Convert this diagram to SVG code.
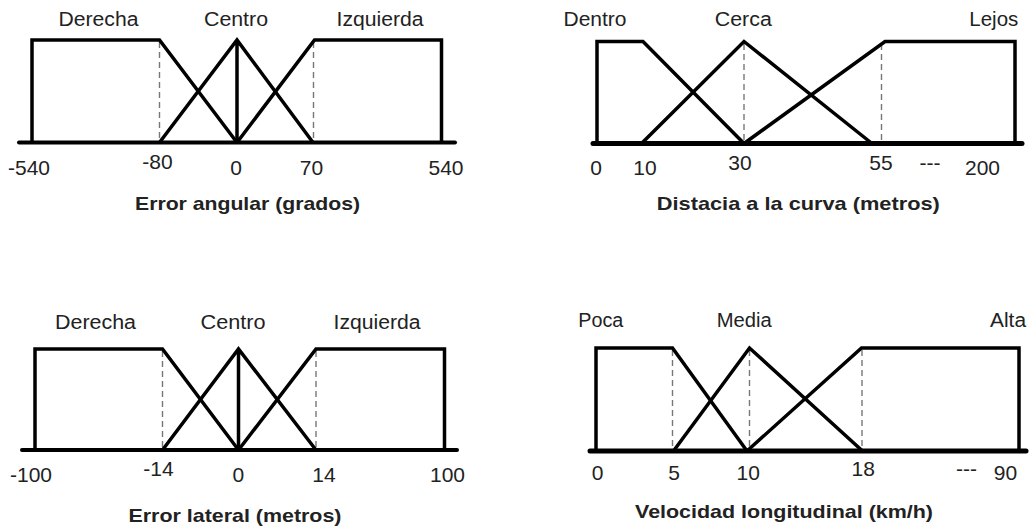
<svg xmlns="http://www.w3.org/2000/svg" width="1030" height="528" viewBox="0 0 1030 528">
<style>
.mf{fill:none;stroke:#000;stroke-width:3.5;stroke-linejoin:miter;stroke-linecap:butt}
.ax{fill:none;stroke:#000;stroke-linecap:round}
.ds{fill:none;stroke:#777;stroke-width:1.4;stroke-dasharray:6 4}
.lb{font-family:"Liberation Sans",Arial,sans-serif;font-size:20px;fill:#222;text-anchor:middle}
.tk{font-family:"Liberation Sans",Arial,sans-serif;font-size:21px;fill:#222;text-anchor:middle}
.tt{font-family:"Liberation Sans",Arial,sans-serif;font-size:19px;font-weight:bold;fill:#222;text-anchor:middle}
</style>
<rect width="1030" height="528" fill="#fff"/>

<!-- Panel 1: Error angular -->
<g id="panel-error-angular">
  <g id="p1-guides">
    <line class="ds" x1="159.5" y1="42" x2="159.5" y2="141"/>
    <line class="ds" x1="313.5" y1="42" x2="313.5" y2="141"/>
  </g>
  <g id="p1-derecha"><path class="mf" d="M32,142.5 V40 H159.5 L237,142.5"/></g>
  <g id="p1-centro"><path class="mf" d="M159.5,142.5 L237,40 L313,142.5 M237,40 V142.5"/></g>
  <g id="p1-izquierda"><path class="mf" d="M237,142.5 L314.5,40 H441.5 V142.5"/></g>
  <line class="ax" x1="19" y1="142.5" x2="455" y2="142.5" stroke-width="4"/>
  <text class="lb" x="98.5" y="25.7" textLength="80" lengthAdjust="spacingAndGlyphs">Derecha</text>
  <text class="lb" x="236" y="25.7" textLength="64" lengthAdjust="spacingAndGlyphs">Centro</text>
  <text class="lb" x="380" y="25.7" textLength="87" lengthAdjust="spacingAndGlyphs">Izquierda</text>
  <text class="tk" x="29" y="175">-540</text>
  <text class="tk" x="157.5" y="169">-80</text>
  <text class="tk" x="236" y="175">0</text>
  <text class="tk" x="311.5" y="175">70</text>
  <text class="tk" x="446" y="175">540</text>
  <text class="tt" x="247.5" y="209.5" textLength="225" lengthAdjust="spacingAndGlyphs">Error angular (grados)</text>
</g>

<!-- Panel 2: Distacia a la curva -->
<g id="panel-distancia">
  <g id="p2-guides">
    <line class="ds" x1="744" y1="44" x2="744" y2="142"/>
    <line class="ds" x1="881.5" y1="44" x2="881.5" y2="142"/>
  </g>
  <g id="p2-dentro"><path class="mf" d="M597,143.5 V41.5 H643 L744,143.5"/></g>
  <g id="p2-cerca"><path class="mf" d="M641.5,143.5 L744,41.5 L872,143.5"/></g>
  <g id="p2-lejos"><path class="mf" d="M744,143.5 L885,41.5 H1015 V143.5"/></g>
  <line class="ax" x1="593" y1="143.5" x2="1022" y2="143.5" stroke-width="5"/>
  <text class="lb" x="595" y="25.7" textLength="63" lengthAdjust="spacingAndGlyphs">Dentro</text>
  <text class="lb" x="743.3" y="25.7" textLength="57" lengthAdjust="spacingAndGlyphs">Cerca</text>
  <text class="lb" x="993.8" y="25.7" textLength="49" lengthAdjust="spacingAndGlyphs">Lejos</text>
  <text class="tk" x="596" y="175">0</text>
  <text class="tk" x="645" y="175">10</text>
  <text class="tk" x="740" y="170">30</text>
  <text class="tk" x="881" y="170">55</text>
  <text class="tk" x="930" y="170">---</text>
  <text class="tk" x="982.5" y="175">200</text>
  <text class="tt" x="798.3" y="209.5" textLength="283" lengthAdjust="spacingAndGlyphs">Distacia a la curva (metros)</text>
</g>

<!-- Panel 3: Error lateral -->
<g id="panel-error-lateral">
  <g id="p3-guides">
    <line class="ds" x1="162.5" y1="351" x2="162.5" y2="448"/>
    <line class="ds" x1="316" y1="351" x2="316" y2="448"/>
  </g>
  <g id="p3-derecha"><path class="mf" d="M35,450 V349 H162.5 L238.5,450"/></g>
  <g id="p3-centro"><path class="mf" d="M162.5,450 L238.5,349 L316,450 M238.5,349 V450"/></g>
  <g id="p3-izquierda"><path class="mf" d="M238.5,450 L316,349 H444.5 V450"/></g>
  <line class="ax" x1="22" y1="450" x2="457" y2="450" stroke-width="4"/>
  <text class="lb" x="95.5" y="329" textLength="81" lengthAdjust="spacingAndGlyphs">Derecha</text>
  <text class="lb" x="233" y="329" textLength="65" lengthAdjust="spacingAndGlyphs">Centro</text>
  <text class="lb" x="377" y="329" textLength="87" lengthAdjust="spacingAndGlyphs">Izquierda</text>
  <text class="tk" x="31" y="481.5">-100</text>
  <text class="tk" x="158.5" y="476">-14</text>
  <text class="tk" x="238.3" y="481.5">0</text>
  <text class="tk" x="324" y="481.5">14</text>
  <text class="tk" x="447.5" y="481.5">100</text>
  <text class="tt" x="235" y="521.5" textLength="213" lengthAdjust="spacingAndGlyphs">Error lateral (metros)</text>
</g>

<!-- Panel 4: Velocidad longitudinal -->
<g id="panel-velocidad">
  <g id="p4-guides">
    <line class="ds" x1="672.5" y1="350" x2="672.5" y2="449"/>
    <line class="ds" x1="749.5" y1="350" x2="749.5" y2="449"/>
    <line class="ds" x1="862" y1="350" x2="862" y2="449"/>
  </g>
  <g id="p4-poca"><path class="mf" d="M596,451 V348 H672.5 L747,451"/></g>
  <g id="p4-media"><path class="mf" d="M673.5,451 L749.5,348 L862.5,451"/></g>
  <g id="p4-alta"><path class="mf" d="M747,451 L861.5,348 H1019 V451"/></g>
  <line class="ax" x1="590" y1="451" x2="1026" y2="451" stroke-width="5"/>
  <text class="lb" x="600.8" y="327" textLength="45" lengthAdjust="spacingAndGlyphs">Poca</text>
  <text class="lb" x="744.2" y="327" textLength="55" lengthAdjust="spacingAndGlyphs">Media</text>
  <text class="lb" x="1008" y="327" textLength="36" lengthAdjust="spacingAndGlyphs">Alta</text>
  <text class="tk" x="597.5" y="480">0</text>
  <text class="tk" x="674" y="480">5</text>
  <text class="tk" x="748.3" y="480">10</text>
  <text class="tk" x="863.3" y="476">18</text>
  <text class="tk" x="966.5" y="476">---</text>
  <text class="tk" x="1005.5" y="480">90</text>
  <text class="tt" x="784" y="517.5" textLength="298" lengthAdjust="spacingAndGlyphs">Velocidad longitudinal (km/h)</text>
</g>
</svg>
